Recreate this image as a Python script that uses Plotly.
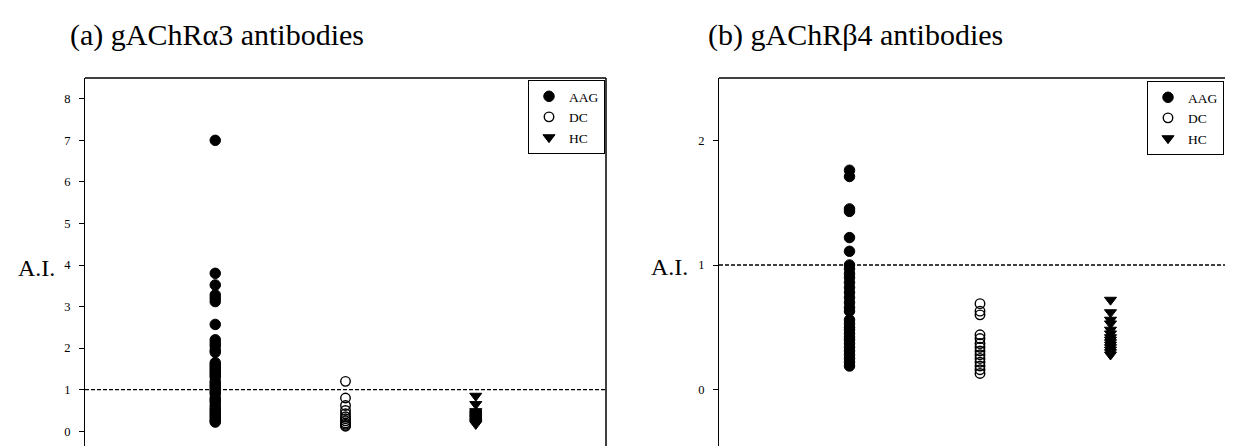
import plotly.graph_objects as go

# ---------------- data ----------------
groups = ["AAG", "DC", "HC"]
group_pos = [1, 2, 3]

a_aag = [7.0, 3.8, 3.52, 3.28, 3.2, 3.12, 2.57, 2.2, 2.12, 2.05, 1.95, 1.9,
         1.65, 1.6, 1.55, 1.5, 1.45, 1.4, 1.35, 1.3, 1.2, 1.15, 1.1, 1.05, 1.0,
         0.95, 0.9, 0.8, 0.75, 0.7, 0.62, 0.55, 0.5, 0.45, 0.4, 0.35, 0.3, 0.25, 0.22]
a_dc = [1.2, 0.8, 0.62, 0.5, 0.42, 0.35, 0.3, 0.25, 0.2, 0.17, 0.14, 0.12]
a_hc = [0.85, 0.65, 0.48, 0.45, 0.42, 0.4, 0.37, 0.35, 0.32, 0.3, 0.28, 0.25,
        0.22, 0.2, 0.17]

b_aag = [1.76, 1.71, 1.45, 1.43, 1.22, 1.11, 1.0, 0.97, 0.93, 0.9, 0.86, 0.82,
         0.78, 0.74, 0.7, 0.66, 0.63, 0.56, 0.53, 0.5, 0.48, 0.45, 0.42, 0.4,
         0.37, 0.34, 0.31, 0.28, 0.25, 0.22, 0.19]
b_dc = [0.69, 0.63, 0.6, 0.44, 0.41, 0.37, 0.34, 0.31, 0.28, 0.25, 0.22, 0.19,
        0.16, 0.13]
b_hc = [0.72, 0.62, 0.56, 0.53, 0.48, 0.45, 0.42, 0.4, 0.38, 0.36, 0.34, 0.32,
        0.3, 0.28]

threshold = 1.0
a_ticks = [0, 1, 2, 3, 4, 5, 6, 7, 8]
b_ticks = [0, 1, 2]
title_a = "(a) gAChRα3 antibodies"
title_b = "(b) gAChRβ4 antibodies"
ylabel = "A.I."

# ---------------- layout helpers ----------------
W, H = 1233, 446
FONT = "Liberation Serif, Times New Roman, serif"


def px_x(p):
    return p / W


def px_y(p):
    return (H - p) / H


styles = {
    "AAG": dict(symbol="circle", size=10.5, color="black", line=dict(color="black", width=1)),
    "DC": dict(symbol="circle-open", size=9.5, color="black", line=dict(color="black", width=1.4)),
    "HC": dict(symbol="triangle-down", size=10.5, color="black", line=dict(color="black", width=1)),
}

fig = go.Figure()

panel_data = [
    ("x", "y", "legend", [a_aag, a_dc, a_hc]),
    ("x2", "y2", "legend2", [b_aag, b_dc, b_hc]),
]
for xa, ya, leg, series in panel_data:
    for g, pos, vals in zip(groups, group_pos, series):
        fig.add_trace(go.Scatter(
            x=[pos] * len(vals), y=vals, mode="markers", name=g,
            marker=styles[g], xaxis=xa, yaxis=ya, legend=leg,
            showlegend=True,
        ))

ydom = [px_y(444), px_y(70)]
axis_common = dict(showgrid=False, zeroline=False)

fig.update_layout(
    width=W, height=H,
    margin=dict(l=0, r=0, t=0, b=0),
    paper_bgcolor="white", plot_bgcolor="white",
    font=dict(family=FONT, color="black", size=12),
    xaxis=dict(domain=[px_x(77), px_x(598)], range=[0, 4], showticklabels=False,
               ticks="", showline=False, anchor="y", **axis_common),
    yaxis=dict(domain=ydom, range=[-0.5, 8.5], tickvals=a_ticks, ticks="outside",
               ticklen=5, tickcolor="black", showline=True, linecolor="black",
               linewidth=1.2, anchor="x", tickfont=dict(family=FONT, size=12.5),
               ticklabelstandoff=6, **axis_common),
    xaxis2=dict(domain=[px_x(711), 1.0], range=[0, 4], showticklabels=False,
                ticks="", showline=False, anchor="y2", **axis_common),
    yaxis2=dict(domain=ydom, range=[-0.5, 2.5], tickvals=b_ticks, ticks="outside",
                ticklen=5, tickcolor="black", showline=True, linecolor="black",
                linewidth=1.2, anchor="x2", tickfont=dict(family=FONT, size=12.5),
                ticklabelstandoff=6, **axis_common),
    legend=dict(x=px_x(597), y=px_y(72), xanchor="right", yanchor="top",
                bordercolor="black", borderwidth=1, bgcolor="white",
                font=dict(family=FONT, size=13.5), tracegroupgap=0,
                itemwidth=30),
    legend2=dict(x=px_x(1139), y=px_y(73), xanchor="left", yanchor="top",
                 bordercolor="black", borderwidth=1, bgcolor="white",
                 font=dict(family=FONT, size=13.5), tracegroupgap=0,
                 itemwidth=30),
    showlegend=True,
)

shapes = []
for xr, yr in [("x", "y"), ("x2", "y2")]:
    # threshold dashed line
    shapes.append(dict(type="line", xref=f"{xr} domain", yref=yr, x0=0, x1=1,
                       y0=threshold, y1=threshold,
                       line=dict(color="black", width=1.3, dash="4px,2px")))
    # top border
    shapes.append(dict(type="line", xref=f"{xr} domain", yref=f"{yr} domain",
                       x0=0, x1=1, y0=1, y1=1, line=dict(color="black", width=1.5)))
    # faint bottom border
    shapes.append(dict(type="line", xref=f"{xr} domain", yref=f"{yr} domain",
                       x0=0, x1=1, y0=0, y1=0,
                       line=dict(color="#b0b0b0", width=1, dash="6px,2px")))
# right border of left panel
shapes.append(dict(type="line", xref="x domain", yref="y domain", x0=1, x1=1,
                   y0=0, y1=1, line=dict(color="black", width=1.5)))
fig.update_layout(shapes=shapes)

annotations = [
    dict(text=title_a, x=px_x(60), y=px_y(27), xref="paper", yref="paper",
         xanchor="left", yanchor="middle", showarrow=False,
         font=dict(family=FONT, size=30)),
    dict(text=title_b, x=px_x(698), y=px_y(27), xref="paper", yref="paper",
         xanchor="left", yanchor="middle", showarrow=False,
         font=dict(family=FONT, size=30)),
    dict(text=ylabel, x=px_x(28), y=px_y(260), xref="paper", yref="paper",
         xanchor="center", yanchor="middle", showarrow=False,
         font=dict(family=FONT, size=24)),
    dict(text=ylabel, x=px_x(661), y=px_y(259), xref="paper", yref="paper",
         xanchor="center", yanchor="middle", showarrow=False,
         font=dict(family=FONT, size=24)),
]
fig.update_layout(annotations=annotations)

fig.write_html("out.html")
